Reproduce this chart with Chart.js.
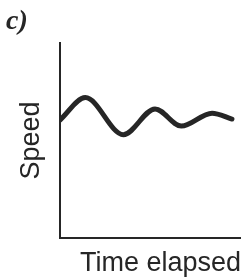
<!DOCTYPE html>
<html>
<head>
<meta charset="utf-8">
<script src="https://cdn.jsdelivr.net/npm/chart.js@4/dist/chart.umd.min.js"></script>
<style>
  html, body { margin: 0; padding: 0; background: #fff; }
  #wrap { width: 241px; height: 280px; position: relative; }
</style>
</head>
<body>
<div id="wrap"><canvas id="speedChart"></canvas></div>
<script>
// time (0-100) and speed (0-100) of the damped wobble
const timeValues = [0, 14, 35, 52.5, 67, 84, 95];
const speedValues = [60.5, 72, 53, 66.2, 57.4, 64, 61];
const panelLabel = 'c)';
const xTitle = 'Time elapsed';
const yTitle = 'Speed';

const ink = '#262626';

const panelLabelPlugin = {
    id: 'panelLabel',
    afterDraw(chart) {
        const ctx = chart.ctx;
        ctx.save();
        ctx.fillStyle = ink;
        ctx.font = 'italic bold 28px "Liberation Serif", "DejaVu Serif", serif';
        ctx.textBaseline = 'alphabetic';
        ctx.fillText(panelLabel, 6, 29);
        ctx.restore();
    }
};

const ctx = document.getElementById('speedChart').getContext('2d');
new Chart(ctx, {
    type: 'line',
    data: {
        datasets: [{
            label: 'Speed',
            data: timeValues.map((t, i) => ({ x: t, y: speedValues[i] })),
            borderColor: ink,
            borderWidth: 5,
            borderCapStyle: 'round',
            pointRadius: 0,
            fill: false,
            cubicInterpolationMode: 'monotone'
        }]
    },
    options: {
        responsive: true,
        maintainAspectRatio: false,
        animation: false,
        layout: {
            padding: { top: 43, right: 0, bottom: 0, left: 0 }
        },
        plugins: {
            legend: { display: false },
            tooltip: { enabled: false }
        },
        scales: {
            x: {
                type: 'linear',
                min: 0,
                max: 100,
                grid: { display: false },
                border: { display: true, color: ink, width: 2 },
                ticks: { display: false },
                title: {
                    display: true,
                    text: xTitle,
                    align: 'end',
                    color: ink,
                    font: { family: '"Liberation Sans", Arial, sans-serif', size: 27 },
                    padding: { top: 3, bottom: 0 }
                },
                afterFit(scale) { scale.height = 42; }
            },
            y: {
                min: 0,
                max: 100,
                grid: { display: false },
                border: { display: true, color: ink, width: 2 },
                ticks: { display: false },
                title: {
                    display: true,
                    text: yTitle,
                    color: ink,
                    font: { family: '"Liberation Sans", Arial, sans-serif', size: 27 },
                    padding: { top: 15, bottom: 0 }
                },
                afterFit(scale) { scale.width = 60; }
            }
        }
    },
    plugins: [panelLabelPlugin]
});
</script>
</body>
</html>
